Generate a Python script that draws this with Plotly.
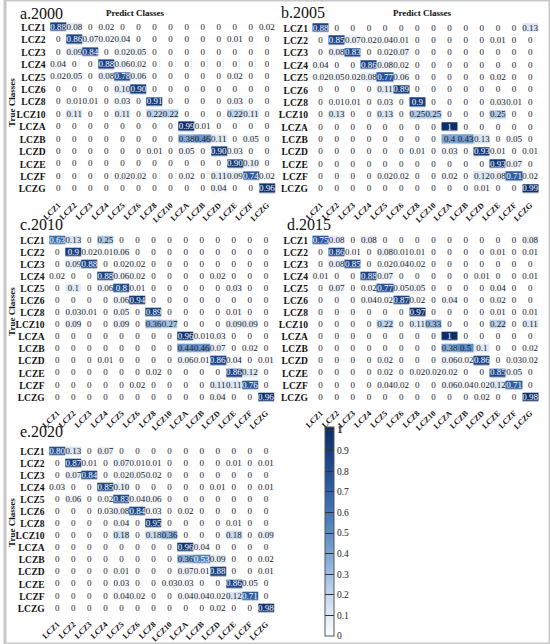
import plotly.graph_objects as go

# ---------------- data ----------------
CLASSES = ["LCZ1", "LCZ2", "LCZ3", "LCZ4", "LCZ5", "LCZ6", "LCZ8", "LCZ10",
           "LCZA", "LCZB", "LCZD", "LCZE", "LCZF", "LCZG"]

CM_2000 = [
    [0.88, 0.08, 0, 0.02, 0, 0, 0, 0, 0, 0, 0, 0, 0, 0.02],
    [0, 0.86, 0.07, 0.02, 0.04, 0, 0, 0, 0, 0, 0, 0.01, 0, 0],
    [0, 0.09, 0.84, 0, 0.02, 0.05, 0, 0, 0, 0, 0, 0, 0, 0],
    [0.04, 0, 0, 0.88, 0.06, 0.02, 0, 0, 0, 0, 0, 0, 0, 0],
    [0.02, 0.05, 0, 0.08, 0.78, 0.06, 0, 0, 0, 0, 0, 0.02, 0, 0],
    [0, 0, 0, 0, 0.10, 0.90, 0, 0, 0, 0, 0, 0, 0, 0],
    [0, 0.01, 0.01, 0, 0.03, 0, 0.91, 0, 0, 0, 0, 0.03, 0, 0],
    [0, 0.11, 0, 0, 0.11, 0, 0.22, 0.22, 0, 0, 0, 0.22, 0.11, 0],
    [0, 0, 0, 0, 0, 0, 0, 0, 0.99, 0.01, 0, 0, 0, 0],
    [0, 0, 0, 0, 0, 0, 0, 0, 0.38, 0.46, 0.11, 0, 0.05, 0],
    [0, 0, 0, 0, 0, 0, 0.01, 0, 0.05, 0, 0.90, 0.03, 0, 0],
    [0, 0, 0, 0, 0, 0, 0, 0, 0, 0, 0, 0.90, 0.10, 0],
    [0, 0, 0, 0, 0.02, 0.02, 0, 0, 0.02, 0, 0.11, 0.09, 0.74, 0.02],
    [0, 0, 0, 0, 0, 0, 0, 0, 0, 0, 0.04, 0, 0, 0.96],
]

CM_2005 = [
    [0.88, 0, 0, 0, 0, 0, 0, 0, 0, 0, 0, 0, 0, 0.13],
    [0, 0.85, 0.07, 0.02, 0.04, 0.01, 0, 0, 0, 0, 0, 0.01, 0, 0],
    [0, 0.08, 0.83, 0, 0.02, 0.07, 0, 0, 0, 0, 0, 0, 0, 0],
    [0.04, 0, 0, 0.86, 0.08, 0.02, 0, 0, 0, 0, 0, 0, 0, 0],
    [0.02, 0.05, 0.02, 0.08, 0.77, 0.06, 0, 0, 0, 0, 0, 0.02, 0, 0],
    [0, 0, 0, 0, 0.11, 0.89, 0, 0, 0, 0, 0, 0, 0, 0],
    [0, 0.01, 0.01, 0, 0.03, 0, 0.9, 0, 0, 0, 0, 0.03, 0.01, 0],
    [0, 0.13, 0, 0, 0.13, 0, 0.25, 0.25, 0, 0, 0, 0.25, 0, 0],
    [0, 0, 0, 0, 0, 0, 0, 0, 1, 0, 0, 0, 0, 0],
    [0, 0, 0, 0, 0, 0, 0, 0, 0.4, 0.43, 0.13, 0, 0.05, 0],
    [0, 0, 0, 0, 0, 0, 0.01, 0, 0.03, 0, 0.93, 0.01, 0, 0.01],
    [0, 0, 0, 0, 0, 0, 0, 0, 0, 0, 0, 0.93, 0.07, 0],
    [0, 0, 0, 0, 0.02, 0.02, 0, 0, 0.02, 0, 0.12, 0.08, 0.71, 0.02],
    [0, 0, 0, 0, 0, 0, 0, 0, 0, 0, 0.01, 0, 0, 0.99],
]

CM_2010 = [
    [0.63, 0.13, 0, 0.25, 0, 0, 0, 0, 0, 0, 0, 0, 0, 0],
    [0, 0.9, 0.02, 0.01, 0.06, 0, 0, 0, 0, 0, 0, 0, 0, 0],
    [0, 0.09, 0.88, 0, 0.02, 0.02, 0, 0, 0, 0, 0, 0, 0, 0],
    [0.02, 0, 0, 0.88, 0.06, 0.02, 0, 0, 0, 0, 0.02, 0, 0, 0],
    [0, 0.1, 0, 0.06, 0.8, 0.01, 0, 0, 0, 0, 0, 0.03, 0, 0],
    [0, 0, 0, 0, 0.06, 0.94, 0, 0, 0, 0, 0, 0, 0, 0],
    [0, 0.03, 0.01, 0, 0.05, 0, 0.89, 0, 0, 0, 0, 0.01, 0, 0],
    [0, 0.09, 0, 0, 0.09, 0, 0.36, 0.27, 0, 0, 0, 0.09, 0.09, 0],
    [0, 0, 0, 0, 0, 0, 0, 0, 0.96, 0.01, 0.03, 0, 0, 0],
    [0, 0, 0, 0, 0, 0, 0, 0, 0.44, 0.46, 0.07, 0, 0.02, 0],
    [0, 0, 0, 0.01, 0, 0, 0, 0, 0.06, 0.01, 0.86, 0.04, 0, 0.01],
    [0, 0, 0, 0, 0, 0, 0.02, 0, 0, 0, 0, 0.86, 0.12, 0],
    [0, 0, 0, 0, 0, 0.02, 0, 0, 0, 0, 0.11, 0.11, 0.76, 0],
    [0, 0, 0, 0, 0, 0, 0, 0, 0, 0, 0.04, 0, 0, 0.96],
]

CM_2015 = [
    [0.75, 0.08, 0, 0.08, 0, 0, 0, 0, 0, 0, 0, 0, 0, 0.08],
    [0, 0.86, 0.01, 0, 0.08, 0.01, 0.01, 0, 0, 0, 0, 0.01, 0, 0.01],
    [0, 0.08, 0.85, 0, 0.02, 0.04, 0.02, 0, 0, 0, 0, 0, 0, 0],
    [0.01, 0, 0, 0.88, 0.07, 0, 0, 0, 0, 0, 0.01, 0, 0, 0.01],
    [0, 0.07, 0, 0.02, 0.77, 0.05, 0.05, 0, 0, 0, 0, 0.04, 0, 0],
    [0, 0, 0, 0.04, 0.02, 0.87, 0.02, 0, 0.04, 0, 0, 0.02, 0, 0],
    [0, 0, 0, 0, 0, 0, 0.97, 0, 0, 0, 0, 0.01, 0, 0.01],
    [0, 0, 0, 0, 0.22, 0, 0.11, 0.33, 0, 0, 0, 0.22, 0, 0.11],
    [0, 0, 0, 0, 0, 0, 0, 0, 1, 0, 0, 0, 0, 0],
    [0, 0, 0, 0, 0, 0, 0, 0, 0.38, 0.5, 0.1, 0, 0, 0.02],
    [0, 0, 0, 0, 0.02, 0, 0, 0, 0.06, 0.02, 0.86, 0, 0.03, 0.02],
    [0, 0, 0, 0, 0.02, 0, 0.02, 0.02, 0.02, 0, 0, 0.85, 0.05, 0],
    [0, 0, 0, 0, 0.04, 0.02, 0, 0, 0.06, 0.04, 0.02, 0.12, 0.71, 0],
    [0, 0, 0, 0, 0, 0, 0, 0, 0, 0, 0.02, 0, 0, 0.98],
]

CM_2020 = [
    [0.80, 0.13, 0, 0.07, 0, 0, 0, 0, 0, 0, 0, 0, 0, 0],
    [0, 0.87, 0.01, 0, 0.07, 0.01, 0.01, 0, 0, 0, 0, 0.01, 0, 0.01],
    [0, 0.07, 0.84, 0, 0.02, 0.05, 0.02, 0, 0, 0, 0, 0, 0, 0],
    [0.03, 0, 0, 0.85, 0.10, 0, 0, 0, 0, 0, 0.01, 0, 0, 0.01],
    [0, 0.06, 0, 0.02, 0.83, 0.04, 0.06, 0, 0, 0, 0, 0, 0, 0],
    [0, 0, 0, 0.03, 0.08, 0.84, 0.03, 0, 0.02, 0, 0, 0, 0, 0],
    [0, 0, 0, 0, 0.04, 0, 0.95, 0, 0, 0, 0, 0.01, 0, 0],
    [0, 0, 0, 0, 0.18, 0, 0.18, 0.36, 0, 0, 0, 0.18, 0, 0.09],
    [0, 0, 0, 0, 0, 0, 0, 0, 0.96, 0.04, 0, 0, 0, 0],
    [0, 0, 0, 0, 0, 0, 0, 0, 0.36, 0.53, 0.09, 0, 0, 0.02],
    [0, 0, 0, 0, 0.01, 0, 0, 0, 0.07, 0.01, 0.88, 0, 0, 0.01],
    [0, 0, 0, 0, 0.03, 0, 0, 0.03, 0.03, 0, 0, 0.86, 0.05, 0],
    [0, 0, 0, 0, 0.04, 0.02, 0, 0, 0.04, 0.04, 0.02, 0.12, 0.71, 0],
    [0, 0, 0, 0, 0, 0, 0, 0, 0, 0, 0.02, 0, 0, 0.98],
]

PANEL_TITLES = ["a.2000", "b.2005", "c.2010", "d.2015", "e.2020"]
PANEL_DATA = [CM_2000, CM_2005, CM_2010, CM_2015, CM_2020]
FIXED_DECIMALS = [True, False, False, False, True]   # "0.90" vs "0.9"
COLORBAR_MIN, COLORBAR_MAX, COLORBAR_STEP = 0, 1, 0.1

# ---------------- layout / style ----------------
W, H = 550, 644
SERIF = "Liberation Serif, Times New Roman, serif"
# pixel boxes (x0, x1, y0_top, y1_bottom) of each heatmap
BOXES = [
    (42, 276, 18.6, 198.0),
    (306.7, 541.7, 19.5, 198.0),
    (41, 275, 232.0, 406.0),
    (306.7, 541.7, 232.0, 406.0),
    (41, 275, 443.0, 617.0),
]
TITLE_POS = [(13, 14), (277, 12), (13, 224), (283, 224), (13, 431)]
PREDICT_POS = [(132, 13), (421, 13)]
TRUE_POS = [(7, 102), (7, 311), (7, 522)]
CB_X0, CB_BOTTOM, CB_LEN, CB_THICK = 322.7, 636, 209, 9
CMAX_PAD = 0.015

COLORSCALE = [
    [0.0, "#ffffff"], [0.1, "#e0eaf6"], [0.2, "#c1d6ee"], [0.3, "#9dbde2"],
    [0.4, "#7aa3d4"], [0.5, "#5a8ac5"], [0.6, "#4374b5"], [0.7, "#315fa4"],
    [0.8, "#234d91"], [0.9, "#173c7d"], [1.0, "#0c2b66"],
]


def px_x(x):
    return x / W


def px_y(y):
    return 1 - y / H


def fmt(v, fixed):
    if v == 0:
        return "0"
    if fixed:
        return f"{v:.2f}"
    return f"{v:g}"


fig = go.Figure()

for i, (cm, fixed) in enumerate(zip(PANEL_DATA, FIXED_DECIMALS)):
    xa = "x" if i == 0 else f"x{i+1}"
    ya = "y" if i == 0 else f"y{i+1}"
    fig.add_trace(go.Heatmap(
        z=cm, x=CLASSES, y=CLASSES, coloraxis="coloraxis",
        xgap=0, ygap=3.6, xaxis=xa, yaxis=ya, hoverinfo="skip",
    ))
    xs, ys, txt, cols = [], [], [], []
    for r, row in enumerate(cm):
        for c, v in enumerate(row):
            xs.append(CLASSES[c])
            ys.append(CLASSES[r])
            txt.append(fmt(v, fixed))
            cols.append("#ffffff" if v > 0.5 else "#1a1a1a")
    fig.add_trace(go.Scatter(
        x=xs, y=ys, text=txt, mode="text", textposition="middle center",
        textfont=dict(family=SERIF, size=9, color=cols),
        xaxis=xa, yaxis=ya, hoverinfo="skip", showlegend=False, cliponaxis=False,
    ))

layout = dict(
    width=W, height=H, margin=dict(l=0, r=0, t=0, b=0),
    paper_bgcolor="white", plot_bgcolor="white", showlegend=False,
    coloraxis=dict(
        colorscale=COLORSCALE, cmin=COLORBAR_MIN, cmax=COLORBAR_MAX + CMAX_PAD,
        colorbar=dict(
            x=px_x(CB_X0), xanchor="left", y=px_y(CB_BOTTOM), yanchor="bottom",
            len=CB_LEN / H, lenmode="fraction", thickness=CB_THICK, thicknessmode="pixels",
            outlinewidth=1, outlinecolor="#555555", xpad=0, ypad=0,
            tickmode="linear", tick0=COLORBAR_MIN, dtick=COLORBAR_STEP,
            ticks="inside", ticklen=CB_THICK, tickwidth=1, tickcolor="#333333",
            ticklabeloverflow="allow",
            tickfont=dict(family=SERIF, size=9.5, color="#222222"),
        ),
    ),
)

for i, (x0, x1, y0, y1) in enumerate(BOXES):
    sx = "" if i == 0 else str(i + 1)
    layout[f"xaxis{sx}"] = dict(
        domain=[px_x(x0), px_x(x1)], anchor=f"y{sx}", type="category",
        categoryorder="array", categoryarray=CLASSES,
        tickangle=-45, showgrid=False, zeroline=False, showline=False, ticks="",
        tickfont=dict(family=SERIF, size=8, color="#111111", weight="bold"),
        fixedrange=True,
    )
    layout[f"yaxis{sx}"] = dict(
        domain=[px_y(y1), px_y(y0)], anchor=f"x{sx}", type="category",
        categoryorder="array", categoryarray=CLASSES, autorange="reversed",
        showgrid=False, zeroline=False, showline=False, ticks="",
        tickfont=dict(family=SERIF, size=9.5, color="#111111", weight="bold"),
        fixedrange=True,
    )

annotations = []
for title, (tx, ty) in zip(PANEL_TITLES, TITLE_POS):
    annotations.append(dict(
        text=title, x=px_x(tx), y=px_y(ty), xref="paper", yref="paper",
        xanchor="left", yanchor="middle", showarrow=False,
        font=dict(family=SERIF, size=16, color="#111111"),
    ))
for (tx, ty) in PREDICT_POS:
    annotations.append(dict(
        text="<b>Predict Classes</b>", x=px_x(tx), y=px_y(ty), xref="paper", yref="paper",
        xanchor="center", yanchor="middle", showarrow=False,
        font=dict(family=SERIF, size=9, color="#111111"),
    ))
for (tx, ty) in TRUE_POS:
    annotations.append(dict(
        text="<b>True Classes</b>", x=px_x(tx), y=px_y(ty), xref="paper", yref="paper",
        xanchor="center", yanchor="middle", showarrow=False, textangle=-90,
        font=dict(family=SERIF, size=9, color="#111111"),
    ))
# top colorbar label (plotly drops the end tick label)
top_y = CB_BOTTOM - CB_LEN * (COLORBAR_MAX - COLORBAR_MIN) / (COLORBAR_MAX + CMAX_PAD - COLORBAR_MIN)
annotations.append(dict(
    text=f"{COLORBAR_MAX:g}", x=px_x(CB_X0 + CB_THICK + 2), y=px_y(top_y),
    xref="paper", yref="paper", xanchor="left", yanchor="middle", showarrow=False,
    font=dict(family=SERIF, size=9.5, color="#222222"),
))
layout["annotations"] = annotations
layout["shapes"] = [dict(
    type="rect", xref="paper", yref="paper", x0=0, x1=1, y0=0, y1=1,
    line=dict(color="#c8c8c8", width=3), fillcolor="rgba(0,0,0,0)",
)]

fig.update_layout(**layout)
fig.write_html("out.html", config={"displayModeBar": False},
               post_script="document.body.style.margin='0';")
